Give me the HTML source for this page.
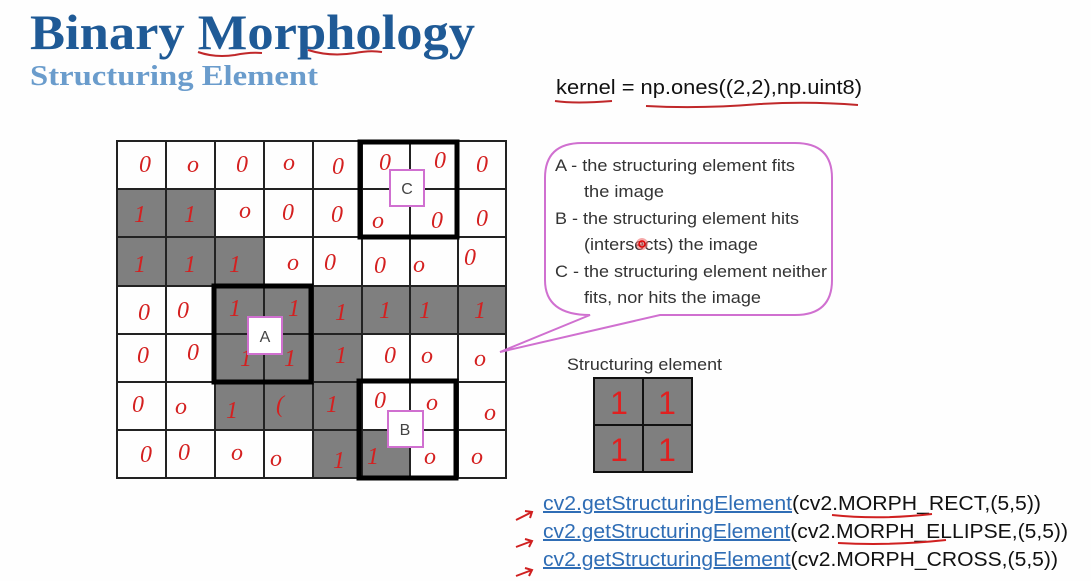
<!DOCTYPE html>
<html><head><meta charset="utf-8"><style>
html,body{margin:0;padding:0;background:#fff;}
svg{display:block;}
</style></head><body>
<svg width="1091" height="581" viewBox="0 0 1091 581" xmlns="http://www.w3.org/2000/svg">
<rect width="1091" height="581" fill="#fefefe"/>
<text x="30" y="49" font-family="Liberation Serif, serif" font-weight="bold" font-size="50" fill="#1f5a96" textLength="445" lengthAdjust="spacingAndGlyphs">Binary Morphology</text>
<path d="M198 52 Q215 58 235 55 Q250 52 262 53" stroke="#c0282a" stroke-width="2" fill="none"/>
<path d="M308 50 Q330 57 355 53 Q370 50 382 52" stroke="#c0282a" stroke-width="2" fill="none"/>
<text x="30" y="85" font-family="Liberation Serif, serif" font-weight="bold" font-size="28" fill="#6a9ccc" textLength="288" lengthAdjust="spacingAndGlyphs">Structuring Element</text>
<text x="556" y="94" font-family="Liberation Sans, sans-serif" font-size="20" fill="#111" textLength="306" lengthAdjust="spacingAndGlyphs">kernel = np.ones((2,2),np.uint8)</text>
<path d="M555 101 Q575 104 612 101" stroke="#c0282a" stroke-width="2" fill="none"/>
<path d="M646 106 Q700 109 760 104 Q810 101 858 105" stroke="#c0282a" stroke-width="2" fill="none"/>

<g fill="#7f7f7f">
<rect x="117" y="189" width="98" height="48"/>
<rect x="117" y="237" width="147" height="49"/>
<rect x="215" y="286" width="291" height="48"/>
<rect x="215" y="334" width="147" height="48"/>
<rect x="215" y="382" width="147" height="48"/>
<rect x="313" y="430" width="97" height="48"/>
</g>
<g stroke="#222" stroke-width="2" fill="none">
<rect x="117" y="141" width="389" height="337"/>
<line x1="166" y1="141" x2="166" y2="478"/><line x1="215" y1="141" x2="215" y2="478"/>
<line x1="264" y1="141" x2="264" y2="478"/><line x1="313" y1="141" x2="313" y2="478"/>
<line x1="362" y1="141" x2="362" y2="478"/><line x1="410" y1="141" x2="410" y2="478"/>
<line x1="458" y1="141" x2="458" y2="478"/>
<line x1="117" y1="189" x2="506" y2="189"/><line x1="117" y1="237" x2="506" y2="237"/>
<line x1="117" y1="286" x2="506" y2="286"/><line x1="117" y1="334" x2="506" y2="334"/>
<line x1="117" y1="382" x2="506" y2="382"/><line x1="117" y1="430" x2="506" y2="430"/>
</g>
<g stroke="#000" stroke-width="5" fill="none">
<rect x="360" y="142" width="97" height="95"/>
<rect x="214" y="286" width="97" height="96"/>
<rect x="359" y="381" width="97" height="97"/>
</g>
<g font-family="Liberation Serif, serif" font-style="italic" font-size="24" fill="#d42020" text-anchor="middle">
<text x="145" y="172">0</text><text x="193" y="172">o</text><text x="242" y="172">0</text><text x="289" y="170">o</text><text x="338" y="174">0</text><text x="385" y="170">0</text><text x="440" y="168">0</text><text x="482" y="172">0</text>
<text x="140" y="222">1</text><text x="190" y="222">1</text><text x="245" y="218">o</text><text x="288" y="220">0</text><text x="337" y="222">0</text><text x="378" y="228">o</text><text x="437" y="228">0</text><text x="482" y="226">0</text>
<text x="140" y="272">1</text><text x="190" y="272">1</text><text x="235" y="272">1</text><text x="293" y="270">o</text><text x="330" y="270">0</text><text x="380" y="273">0</text><text x="419" y="272">o</text><text x="470" y="265">0</text>
<text x="144" y="320">0</text><text x="183" y="318">0</text><text x="235" y="316">1</text><text x="294" y="316">1</text><text x="341" y="320">1</text><text x="385" y="318">1</text><text x="425" y="318">1</text><text x="480" y="318">1</text>
<text x="143" y="363">0</text><text x="193" y="360">0</text><text x="246" y="366">1</text><text x="290" y="366">1</text><text x="341" y="363">1</text><text x="390" y="363">0</text><text x="427" y="363">o</text><text x="480" y="366">o</text>
<text x="138" y="412">0</text><text x="181" y="414">o</text><text x="232" y="418">1</text><text x="280" y="412">(</text><text x="332" y="412">1</text><text x="380" y="408">0</text><text x="432" y="410">o</text><text x="490" y="420">o</text>
<text x="146" y="462">0</text><text x="184" y="460">0</text><text x="237" y="460">o</text><text x="276" y="466">o</text><text x="339" y="468">1</text><text x="373" y="464">1</text><text x="430" y="464">o</text><text x="477" y="464">o</text>
</g>
<g fill="#fff" stroke="#d070d0" stroke-width="2">
<rect x="390" y="170" width="34" height="36"/>
<rect x="248" y="317" width="34" height="37"/>
<rect x="388" y="411" width="35" height="36"/>
</g>
<g font-family="Liberation Sans, sans-serif" font-size="16" fill="#444" text-anchor="middle">
<text x="407" y="194">C</text><text x="265" y="342">A</text><text x="405" y="435">B</text>
</g>

<path d="M590 315 L500 352 L660 315 L795 315 Q832 315 832 280 L832 178 Q832 143 795 143 L582 143 Q545 143 545 178 L545 280 Q545 315 590 315 Z" fill="#fff" stroke="#d070d0" stroke-width="2"/>
<g font-family="Liberation Sans, sans-serif" font-size="17" fill="#333" lengthAdjust="spacingAndGlyphs">
<text x="555" y="171" textLength="240" lengthAdjust="spacingAndGlyphs">A - the structuring element fits</text>
<text x="584" y="197" textLength="80" lengthAdjust="spacingAndGlyphs">the image</text>
<text x="555" y="224" textLength="244" lengthAdjust="spacingAndGlyphs">B - the structuring element hits</text>
<text x="584" y="250" textLength="174" lengthAdjust="spacingAndGlyphs">(intersects) the image</text>
<text x="555" y="277" textLength="272" lengthAdjust="spacingAndGlyphs">C - the structuring element neither</text>
<text x="584" y="303" textLength="177" lengthAdjust="spacingAndGlyphs">fits, nor hits the image</text>
</g>
<circle cx="642" cy="244" r="6" fill="#f07070" opacity="0.6"/><circle cx="642" cy="244" r="3" fill="none" stroke="#d00" stroke-width="1.5"/>

<text x="567" y="370" font-family="Liberation Sans, sans-serif" font-size="17" fill="#333" textLength="155" lengthAdjust="spacingAndGlyphs">Structuring element</text>
<rect x="594" y="378" width="98" height="94" fill="#7f7f7f" stroke="#111" stroke-width="2"/>
<line x1="643" y1="378" x2="643" y2="472" stroke="#111" stroke-width="2"/>
<line x1="594" y1="425" x2="692" y2="425" stroke="#111" stroke-width="2"/>
<g font-family="Liberation Sans, sans-serif" font-size="32" fill="#e02020" text-anchor="middle">
<text x="619" y="414">1</text><text x="667" y="414">1</text><text x="619" y="461">1</text><text x="667" y="461">1</text>
</g>

<g font-family="Liberation Sans, sans-serif" font-size="20">
<text x="543" y="510" textLength="498" lengthAdjust="spacingAndGlyphs"><tspan fill="#2f6db5" text-decoration="underline">cv2.getStructuringElement</tspan><tspan fill="#111">(cv2.MORPH_RECT,(5,5))</tspan></text>
<text x="543" y="538" textLength="525" lengthAdjust="spacingAndGlyphs"><tspan fill="#2f6db5" text-decoration="underline">cv2.getStructuringElement</tspan><tspan fill="#111">(cv2.MORPH_ELLIPSE,(5,5))</tspan></text>
<text x="543" y="566" textLength="515" lengthAdjust="spacingAndGlyphs"><tspan fill="#2f6db5" text-decoration="underline">cv2.getStructuringElement</tspan><tspan fill="#111">(cv2.MORPH_CROSS,(5,5))</tspan></text>
</g>
<g stroke="#d02020" stroke-width="2" fill="none">
<path d="M832 515 Q880 520 932 514"/>
<path d="M838 543 Q890 546 946 540"/>
<path d="M516 520 L532 512 M525 511 L532 512 L530 518"/>
<path d="M516 547 L532 541 M525 539 L532 541 L529 547"/>
<path d="M516 576 L532 570 M525 568 L532 570 L529 576"/>
</g>
</svg>
</body></html>
